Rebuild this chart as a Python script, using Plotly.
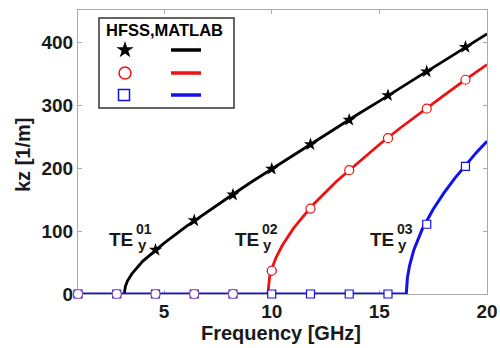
import plotly.graph_objects as go

# ---- data ----
freq_markers = [1.0, 2.8, 4.6, 6.4, 8.2, 10.0, 11.8, 13.6, 15.4, 17.2, 19.0]
hfss_te01 = [None, None, 70, 117, 158, 199, 238, 277, 316, 354, 393]
hfss_te02 = [0, 0, 0, 0, 0, 37, 136, 197, 248, 295, 341]
hfss_te03 = [0, 0, 0, 0, 0, 0, 0, 0, 0, 111, 203]

f_te01 = [3.15, 3.2, 3.3, 3.5, 4.0, 4.5, 5, 6, 7, 8, 9, 10, 11, 12, 13, 14, 15, 16, 17, 18, 19, 20]
k_te01 = [0, 12, 21, 32, 52, 67, 81, 107, 131, 154, 177, 199, 221, 243, 264, 286, 307, 329, 350, 371, 393, 414]
f_te02 = [9.82, 9.85, 9.9, 10.0, 10.2, 10.5, 11, 11.5, 12, 13, 14, 15, 16, 17, 18, 19, 20]
k_te02 = [0, 16, 27, 40, 58, 78, 104, 125, 145, 179, 209, 238, 265, 291, 316, 341, 365]
f_te03 = [1.0, 16.25, 16.3, 16.4, 16.6, 17.0, 17.5, 18, 18.5, 19, 19.5, 20]
k_te03 = [0, 0, 25, 45, 70, 104, 135, 161, 184, 205, 225, 243]

x_ticks = [5, 10, 15, 20]
y_ticks = [0, 100, 200, 300, 400]

BLACK = "#000000"
RED = "#ee1111"
BLUE = "#1111ee"
FONT = "Liberation Sans"
TXT = "#1a1a1a"

fig = go.Figure()

# MATLAB lines
for f, k, c, w in [(f_te01, k_te01, BLACK, 2.8), (f_te02, k_te02, RED, 2.8), (f_te03, k_te03, BLUE, 3.0)]:
    fig.add_trace(go.Scatter(x=f, y=k, mode="lines", line=dict(color=c, width=w),
                             showlegend=False, cliponaxis=False, hoverinfo="skip"))

# HFSS markers
fig.add_trace(go.Scatter(x=freq_markers, y=hfss_te01, mode="markers",
                         marker=dict(symbol="star", size=10, color=BLACK, line=dict(width=0)),
                         showlegend=False, cliponaxis=False))
fig.add_trace(go.Scatter(x=freq_markers, y=hfss_te03, mode="markers",
                         marker=dict(symbol="square", size=8, color="white", line=dict(color=BLUE, width=1.2)),
                         showlegend=False, cliponaxis=False))
fig.add_trace(go.Scatter(x=freq_markers[:6], y=hfss_te02[:6], mode="markers",
                         marker=dict(symbol="circle", size=9, color="white", line=dict(color="#9a4aa8", width=1.2)),
                         showlegend=False, cliponaxis=False))
fig.add_trace(go.Scatter(x=freq_markers[5:], y=hfss_te02[5:], mode="markers",
                         marker=dict(symbol="circle", size=9, color="white", line=dict(color=RED, width=1.2)),
                         showlegend=False, cliponaxis=False))

# ---- custom legend on a pixel-space overlay axis ----
leg_x = [125, 125, 124]
leg_y = [50, 73, 95]
fig.add_trace(go.Scatter(x=[leg_x[0]], y=[leg_y[0]], xaxis="x2", yaxis="y2", mode="markers",
                         marker=dict(symbol="star", size=13, color=BLACK, line=dict(width=0)),
                         showlegend=False, cliponaxis=False))
fig.add_trace(go.Scatter(x=[leg_x[1]], y=[leg_y[1]], xaxis="x2", yaxis="y2", mode="markers",
                         marker=dict(symbol="circle", size=12, color="white", line=dict(color=RED, width=1.5)),
                         showlegend=False, cliponaxis=False))
fig.add_trace(go.Scatter(x=[leg_x[2]], y=[leg_y[2]], xaxis="x2", yaxis="y2", mode="markers",
                         marker=dict(symbol="square", size=11, color="white", line=dict(color=BLUE, width=1.5)),
                         showlegend=False, cliponaxis=False))

shapes = [dict(type="rect", xref="x2", yref="y2", x0=99, x1=234, y0=18, y1=108,
               line=dict(color="#333333", width=1.5), fillcolor="white", layer="below")]
for yy, c in zip(leg_y, [BLACK, RED, BLUE]):
    shapes.append(dict(type="line", xref="x2", yref="y2", x0=171, x1=201, y0=yy, y1=yy,
                       line=dict(color=c, width=3.5)))

annotations = [dict(x=164, y=30, xref="x2", yref="y2", text="HFSS,MATLAB", showarrow=False,
                    font=dict(family=FONT, size=16.5, color=BLACK, weight="bold"))]

# axis titles (paper coords)
annotations.append(dict(x=0.4963, y=-0.138, xref="paper", yref="paper", text="Frequency [GHz]",
                        showarrow=False, xanchor="center", yanchor="middle",
                        font=dict(family=FONT, size=20, color=TXT, weight="bold")))
annotations.append(dict(x=-0.1345, y=0.4894, xref="paper", yref="paper", text="kz [1/m]",
                        showarrow=False, textangle=-90, xanchor="center", yanchor="middle",
                        font=dict(family=FONT, size=20, color=TXT, weight="bold")))

# TE mode labels (data coords)
labels = [(3.02, 87, "01"), (8.83, 87, "02"), (15.1, 87, "03")]
for lx, ly, sup in labels:
    annotations.append(dict(x=lx, y=ly, xref="x", yref="y", text="TE", showarrow=False,
                            font=dict(family=FONT, size=19, color=TXT, weight="bold")))
    annotations.append(dict(x=lx, y=ly, xref="x", yref="y", text=sup, showarrow=False,
                            xshift=23, yshift=10,
                            font=dict(family=FONT, size=14, color=TXT, weight="bold")))
    annotations.append(dict(x=lx, y=ly, xref="x", yref="y", text="y", showarrow=False,
                            xshift=21, yshift=-5,
                            font=dict(family=FONT, size=15, color=TXT, weight="bold")))

axis_common = dict(showline=True, linecolor="#aaaaaa", linewidth=1, mirror="ticks",
                   ticks="inside", ticklen=4, tickcolor="#aaaaaa", showgrid=False, zeroline=False,
                   automargin=False, layer="below traces",
                   tickfont=dict(family=FONT, size=19, color=TXT, weight="bold"))

fig.update_layout(
    width=500, height=348,
    margin=dict(l=78, r=13, t=10, b=54),
    paper_bgcolor="white", plot_bgcolor="white",
    xaxis=dict(range=[1, 20], tickvals=x_ticks, **axis_common),
    yaxis=dict(range=[0, 452], tickvals=y_ticks, **axis_common),
    xaxis2=dict(range=[78, 487], overlaying="x", visible=False, fixedrange=True, automargin=False),
    yaxis2=dict(range=[294, 10], overlaying="y", visible=False, fixedrange=True, automargin=False),
    shapes=shapes,
    annotations=annotations,
)

fig.write_html("out.html")
